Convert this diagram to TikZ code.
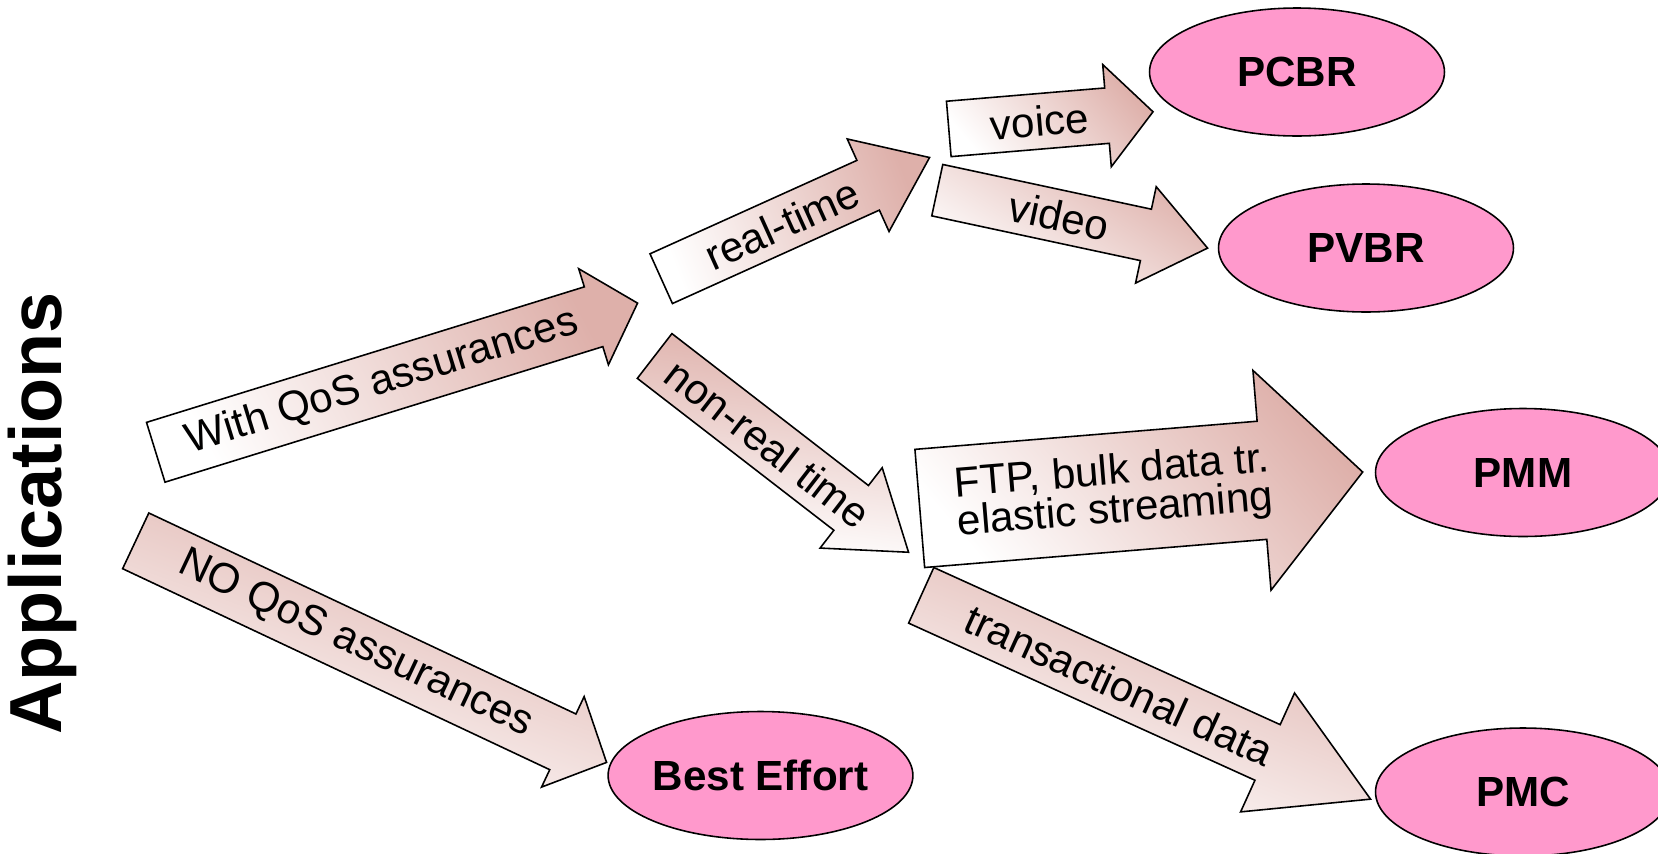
\documentclass[tikz,border=0pt]{standalone}
\usepackage{fontspec}
\setmainfont{Liberation Sans}
\usetikzlibrary{calc, shapes.arrows, shapes.geometric}

\definecolor{classpink}{RGB}{255,153,204}
\definecolor{flowpink}{RGB}{222,176,170}

\tikzset{
  flow/.style = {single arrow, draw = black, line width = 0.9pt, inner xsep = 0pt, minimum width = 0pt,
    top color = flowpink, bottom color = white, rotate = #1, shading angle = {-45 - #1}, anchor = tail},
  flowtext/.style = {font = \fontsize{24}{22}\selectfont, align = center, inner sep = 0pt, rotate = #1},
  class/.style = {ellipse, draw = black, line width = 0.9pt, fill = classpink, minimum width = 5.9cm, minimum height = 2.56cm,
    inner sep = 0pt, font = \fontsize{24}{26}\selectfont\bfseries}
}

\begin{document}
\begin{tikzpicture}[x = 0.02cm, y = -0.02cm]
            \useasboundingbox (0, 0) rectangle (1658, 853);
            \clip (0, 0) rectangle (1658, 853);

            \node[rotate = 90, inner sep = 0pt, font = \fontsize{42}{44}\selectfont\bfseries] (apps) at (42.5, 513.5) {Applications};

            % service classes
            \node[class] (pcbr) at (1297, 72) {PCBR};
            \node[class] (pvbr) at (1366, 248) {PVBR};
            \node[class] (pmm) at (1523, 472.5) {PMM};
            \node[class] (pmc) at (1523, 792) {PMC};
            \node[class] (best) at (760.5, 775.5) {Best Effort};

            % block arrows
            \node[flow = 17.2, minimum height = 10.09cm, inner ysep = 0.61cm, single arrow head extend = 0.38cm, single arrow tip angle = 95] (qos) at (155, 452.5) {};
            \node[flow = -25.2, minimum height = 10.41cm, inner ysep = 0.6cm, single arrow head extend = 0.385cm, single arrow tip angle = 92] (noqos) at (135, 540.5) {};
            \node[flow = 24.3, minimum height = 5.89cm, inner ysep = 0.53cm, single arrow head extend = 0.47cm, single arrow tip angle = 74] (rt) at (660.5, 279) {};
            \node[flow = -37.7, minimum height = 6.42cm, inner ysep = 0.55cm, single arrow head extend = 0.45cm, single arrow tip angle = 70] (nrt) at (654, 355.5) {};
            \node[flow = 4.8, minimum height = 4.1cm, inner ysep = 0.54cm, single arrow head extend = 0.47cm, single arrow tip angle = 96] (voice) at (948, 129) {};
            \node[flow = -12.1, minimum height = 5.53cm, inner ysep = 0.51cm, single arrow head extend = 0.46cm, single arrow tip angle = 76] (video) at (936.5, 190) {};
            \node[flow = -24.4, minimum height = 9.87cm, inner ysep = 0.595cm, single arrow head extend = 0.695cm, single arrow tip angle = 60] (trans) at (920.5, 595) {};
            \node[flow = 4.7, minimum height = 8.89cm, inner ysep = 1.17cm, single arrow head extend = 1.02cm, single arrow tip angle = 95] (ftp) at (919, 508.5) {};

            % arrow labels
            \node[flowtext = 17.2] (qos-label) at ($(qos.tail)!0.47!(qos.tip)$) {With QoS assurances};
            \node[flowtext = -25.2] (noqos-label) at ($(noqos.tail)!0.467!(noqos.tip)$) {NO QoS assurances};
            \node[flowtext = 24.3] (rt-label) at ($(rt.tail)!0.45!(rt.tip)$) {real-time};
            \node[flowtext = -37.7] (nrt-label) at ($(nrt.tail)!0.446!(nrt.tip)$) {non-real time};
            \node[flowtext = 4.8] (voice-label) at ($(voice.tail)!0.445!(voice.tip)$) {voice};
            \node[flowtext = -12.1] (video-label) at ($(video.tail)!0.45!(video.tip)$) {video};
            \node[flowtext = -24.4] (trans-label) at ($(trans.tail)!0.44!(trans.tip)$) {transactional data};
            \node[flowtext = 4.7] (ftp-label) at ($(ftp.tail)!0.438!(ftp.tip)$) {FTP, bulk data tr.\\elastic streaming};
\end{tikzpicture}
\end{document}
